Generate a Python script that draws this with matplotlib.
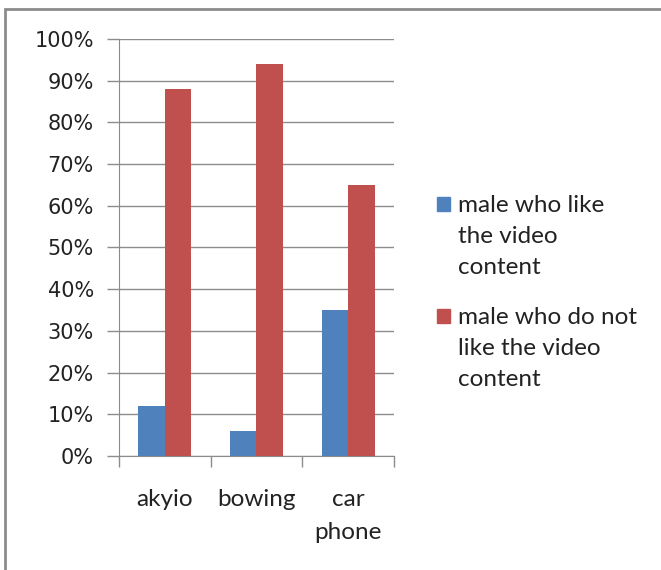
import matplotlib.pyplot as plt
import numpy as np
from matplotlib.patches import Rectangle
from matplotlib.ticker import FuncFormatter, FixedLocator

# data
categories = ['akyio', 'bowing', 'car\nphone']
like = [12, 6, 35]
dislike = [88, 94, 65]
series_names = ['male who like\nthe video\ncontent', 'male who do not\nlike the video\ncontent']
colors = ['#4f81bd', '#c0504d']

fig = plt.figure(figsize=(6.61, 5.70), dpi=100)
ax = fig.add_axes([0.180, 0.200, 0.416, 0.7316])

# outer chart frame (right and bottom edges run off the image)
fig.patches.append(Rectangle((5 / 661, -0.05), 1.0, 1 - 9 / 570 + 0.05,
                             transform=fig.transFigure, fill=False,
                             edgecolor='#8c8c8c', linewidth=2))

x = np.arange(len(categories))
w = 0.29
ax.bar(x - w / 2, like, w, color=colors[0], zorder=3)
ax.bar(x + w / 2, dislike, w, color=colors[1], zorder=3)

ax.set_xlim(-0.5, 2.5)
ax.set_ylim(0, 100)
ax.set_yticks(np.arange(0, 101, 10))
ax.yaxis.set_major_formatter(FuncFormatter(lambda v, p: '%d%%' % v))
ax.grid(axis='y', color='#8c8c8c', linewidth=1, zorder=0)

ax.xaxis.set_major_locator(FixedLocator([-0.5, 0.5, 1.5, 2.5]))
ax.xaxis.set_major_formatter(FuncFormatter(lambda v, p: ''))
ax.xaxis.set_minor_locator(FixedLocator(x))
ax.set_xticklabels(categories, minor=True, family='Lato')
ax.tick_params(axis='x', which='minor', length=0, pad=24, labelsize=17.5,
               labelcolor='#222222')
ax.tick_params(axis='x', which='major', length=8, color='#8c8c8c', width=1)
ax.tick_params(axis='y', length=9, color='#8c8c8c', width=1, labelsize=15,
               pad=9, labelcolor='#222222')
for lab in ax.xaxis.get_minorticklabels():
    lab.set_linespacing(1.68)
    lab.set_verticalalignment('top')

for s in ['top', 'right']:
    ax.spines[s].set_visible(False)
for s in ['left', 'bottom']:
    ax.spines[s].set_color('#8c8c8c')

# legend: square lined up with the first text line
leg_x, leg_y = 437 / 661, 1 - 196 / 570
step = 112 / 570
for i, (name, c) in enumerate(zip(series_names, colors)):
    y0 = leg_y - i * step
    fig.patches.append(Rectangle((leg_x, y0 - 15 / 570), 13 / 661, 14 / 570,
                                 transform=fig.transFigure, color=c))
    fig.text(458 / 661, y0 + 1 / 570, name, family='Lato', fontsize=17.5,
             va='top', ha='left', linespacing=1.6, color='#222222')

fig.savefig('out.png', dpi=100)
